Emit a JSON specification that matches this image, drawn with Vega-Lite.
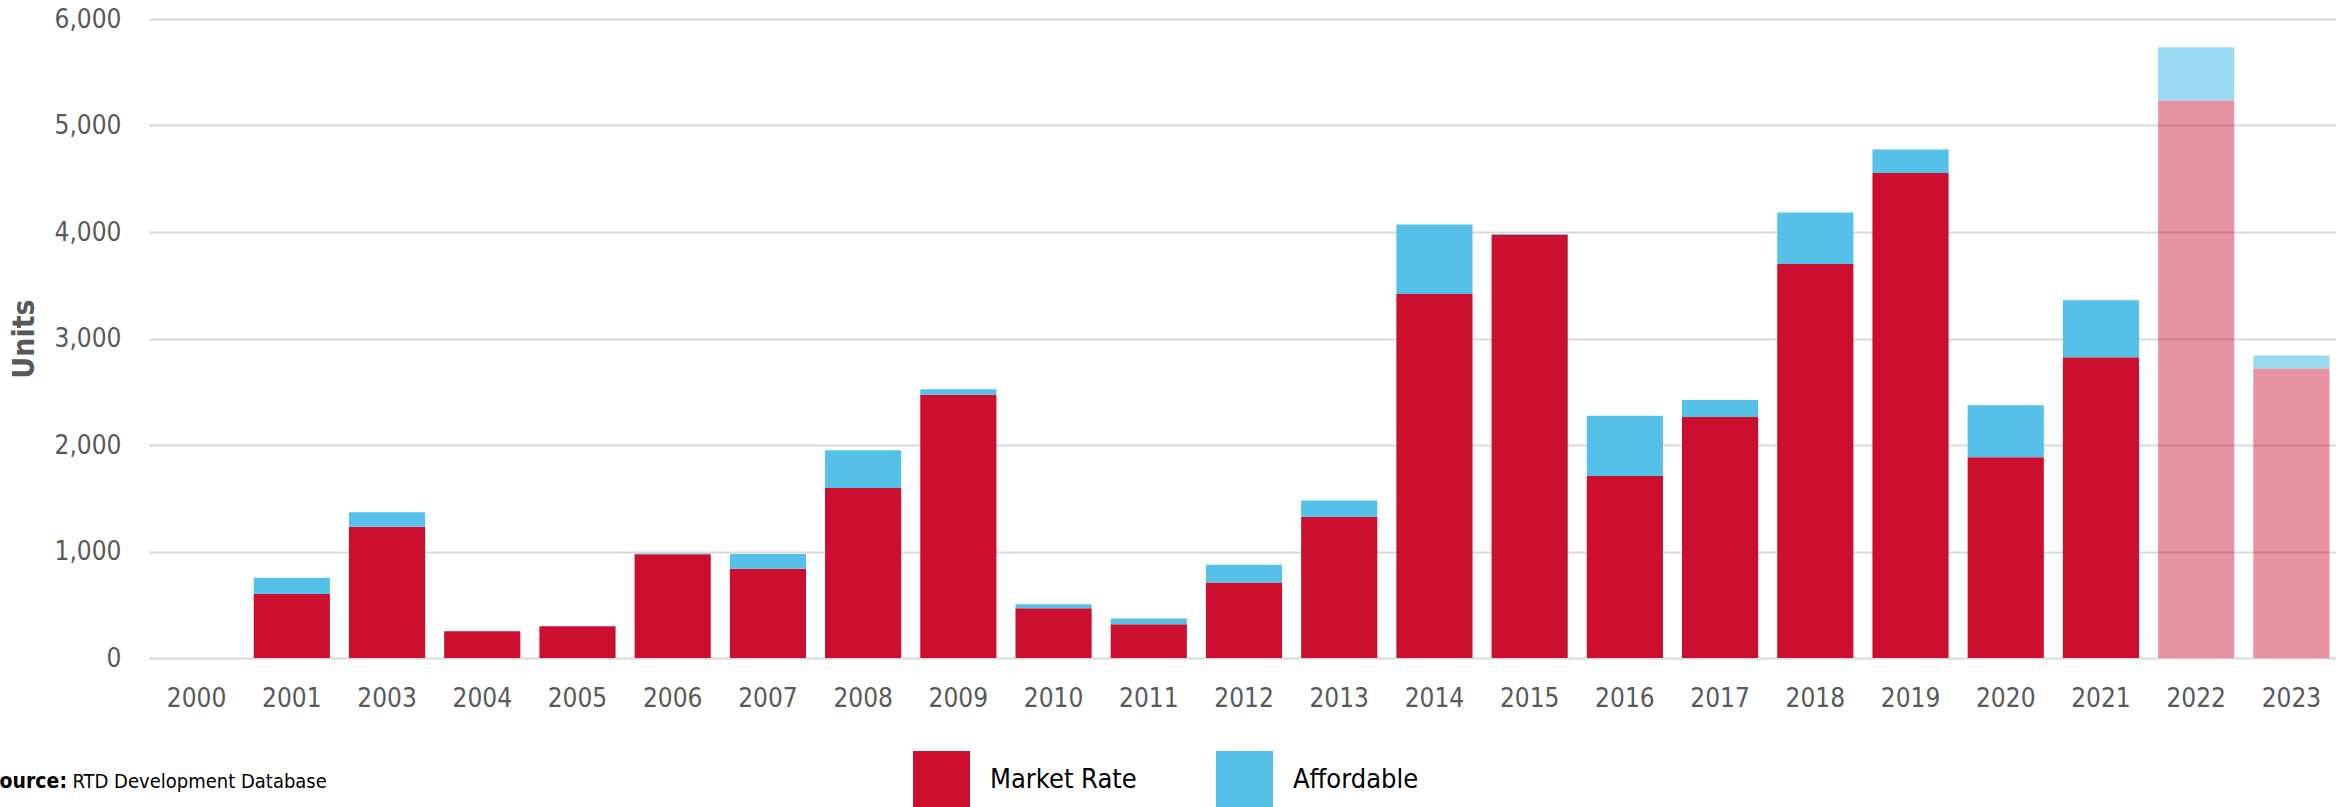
{
  "$schema": "https://vega.github.io/schema/vega-lite/v6.json",
  "width": 2190,
  "height": 639,
  "autosize": "none",
  "padding": {"left": 149, "top": 19, "right": 0, "bottom": 149},
  "background": "white",
  "config": {
    "view": {"stroke": null},
    "font": "DejaVu Sans Condensed, Liberation Sans, sans-serif"
  },
  "title": {
    "text": "Source:",
    "orient": "bottom",
    "anchor": "start",
    "frame": "group",
    "dx": -163,
    "offset": -37,
    "font": "DejaVu Sans Condensed, Liberation Sans, sans-serif",
    "fontSize": 21,
    "fontWeight": "bold",
    "color": "#000000"
  },
  "data": {
    "values": [
      {"year": "2000", "type": "Market Rate", "units": 0},
      {"year": "2001", "type": "Market Rate", "units": 602},
      {"year": "2001", "type": "Affordable", "units": 151},
      {"year": "2003", "type": "Market Rate", "units": 1233},
      {"year": "2003", "type": "Affordable", "units": 135},
      {"year": "2004", "type": "Market Rate", "units": 252},
      {"year": "2005", "type": "Market Rate", "units": 297},
      {"year": "2006", "type": "Market Rate", "units": 975},
      {"year": "2006", "type": "Affordable", "units": 6},
      {"year": "2007", "type": "Market Rate", "units": 839},
      {"year": "2007", "type": "Affordable", "units": 138},
      {"year": "2008", "type": "Market Rate", "units": 1596},
      {"year": "2008", "type": "Affordable", "units": 354},
      {"year": "2009", "type": "Market Rate", "units": 2471},
      {"year": "2009", "type": "Affordable", "units": 53},
      {"year": "2010", "type": "Market Rate", "units": 468},
      {"year": "2010", "type": "Affordable", "units": 37},
      {"year": "2011", "type": "Market Rate", "units": 317},
      {"year": "2011", "type": "Affordable", "units": 53},
      {"year": "2012", "type": "Market Rate", "units": 708},
      {"year": "2012", "type": "Affordable", "units": 167},
      {"year": "2013", "type": "Market Rate", "units": 1327},
      {"year": "2013", "type": "Affordable", "units": 151},
      {"year": "2014", "type": "Market Rate", "units": 3419},
      {"year": "2014", "type": "Affordable", "units": 651},
      {"year": "2015", "type": "Market Rate", "units": 3975},
      {"year": "2015", "type": "Affordable", "units": 6},
      {"year": "2016", "type": "Market Rate", "units": 1710},
      {"year": "2016", "type": "Affordable", "units": 565},
      {"year": "2017", "type": "Market Rate", "units": 2263},
      {"year": "2017", "type": "Affordable", "units": 159},
      {"year": "2018", "type": "Market Rate", "units": 3700},
      {"year": "2018", "type": "Affordable", "units": 484},
      {"year": "2019", "type": "Market Rate", "units": 4555},
      {"year": "2019", "type": "Affordable", "units": 220},
      {"year": "2020", "type": "Market Rate", "units": 1885},
      {"year": "2020", "type": "Affordable", "units": 488},
      {"year": "2021", "type": "Market Rate", "units": 2825},
      {"year": "2021", "type": "Affordable", "units": 533},
      {"year": "2022", "type": "Market Rate", "units": 5235},
      {"year": "2022", "type": "Affordable", "units": 500},
      {"year": "2023", "type": "Market Rate", "units": 2719},
      {"year": "2023", "type": "Affordable", "units": 122}
    ]
  },
  "mark": {"type": "bar"},
  "encoding": {
    "x": {
      "field": "year",
      "type": "nominal",
      "sort": null,
      "scale": {"paddingInner": 0.2, "paddingOuter": 0.1},
      "axis": {
        "title": "RTD Development Database",
        "titleAnchor": "start",
        "titleAlign": "left",
        "titleBaseline": "alphabetic",
        "titleX": -77,
        "titleY": 129,
        "titleFontSize": 20,
        "titleFontWeight": "normal",
        "titleColor": "#000000",
        "labelAngle": 0,
        "labelFontSize": 26,
        "labelColor": "#595959",
        "labelPadding": 27,
        "ticks": false,
        "tickSize": 0,
        "domain": false,
        "grid": false
      }
    },
    "y": {
      "field": "units",
      "type": "quantitative",
      "stack": "zero",
      "scale": {"domain": [0, 6000], "nice": false},
      "axis": {
        "title": "Units",
        "titleFontSize": 30,
        "titleFontWeight": "bold",
        "titleColor": "#595959",
        "titlePadding": 15,
        "values": [0, 1000, 2000, 3000, 4000, 5000, 6000],
        "format": ",.0f",
        "labelFontSize": 26,
        "labelColor": "#595959",
        "labelPadding": 28,
        "ticks": false,
        "tickSize": 0,
        "domain": false,
        "grid": true,
        "gridColor": "#D9D9D9",
        "gridWidth": 2
      }
    },
    "color": {
      "field": "type",
      "type": "nominal",
      "scale": {"domain": ["Market Rate", "Affordable"], "range": ["#CC0F2E", "#56C1E8"]},
      "legend": {
        "title": null,
        "orient": "none",
        "legendX": 764,
        "legendY": 732,
        "direction": "horizontal",
        "symbolType": "square",
        "symbolSize": 3249,
        "symbolStrokeWidth": 0,
        "symbolOpacity": 1,
        "labelFontSize": 27,
        "labelColor": "#000000",
        "labelOffset": 20,
        "columnPadding": 79,
        "padding": 0
      }
    },
    "order": {"field": "type", "sort": "descending"},
    "opacity": {
      "condition": [
        {"test": "toNumber(datum.year) >= 2022 && datum.type == 'Market Rate'", "value": 0.45},
        {"test": "toNumber(datum.year) >= 2022", "value": 0.6}
      ],
      "value": 1
    }
  }
}
